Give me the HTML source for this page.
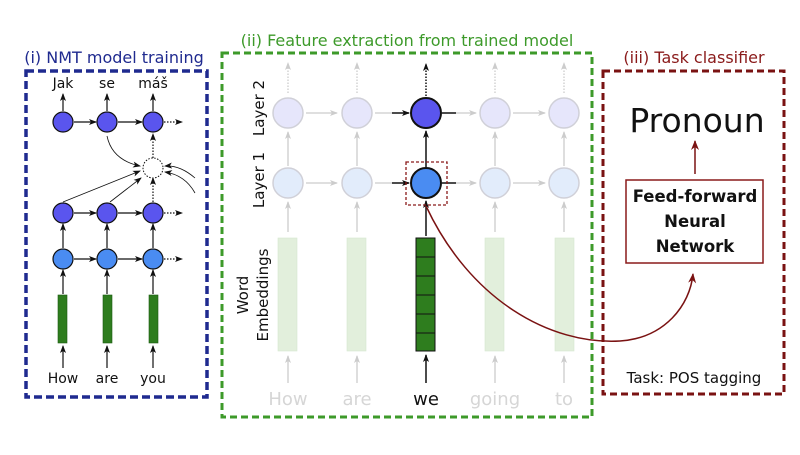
<!DOCTYPE html>
<html><head><meta charset="utf-8"><style>
html,body{margin:0;padding:0;background:#fff;width:800px;height:455px;overflow:hidden}
svg{display:block;font-family:"DejaVu Sans","Liberation Sans",sans-serif}
</style></head><body>
<svg width="800" height="455" viewBox="0 0 800 455" xmlns="http://www.w3.org/2000/svg">
<defs>
<marker id="ab" markerWidth="8" markerHeight="8" refX="7" refY="4" orient="auto" markerUnits="userSpaceOnUse"><path d="M0,1 L8,4 L0,7 L2,4 Z" fill="#111"/></marker>
<marker id="ag" markerWidth="8" markerHeight="8" refX="7" refY="4" orient="auto" markerUnits="userSpaceOnUse"><path d="M0,1 L8,4 L0,7 L2,4 Z" fill="#ccc"/></marker>
<marker id="ar" markerWidth="10" markerHeight="10" refX="9" refY="5" orient="auto" markerUnits="userSpaceOnUse"><path d="M0,1 L10,5 L0,9 L3,5 Z" fill="#7a1212"/></marker>
</defs>

<!-- Panel (i) -->
<text x="114" y="63" font-size="16" fill="#1f2a8f" text-anchor="middle">(i) NMT model training</text>
<rect x="26" y="71" width="181" height="326" fill="none" stroke="#1f2a8f" stroke-width="3.5" stroke-dasharray="8,4"/>
<g font-size="14" fill="#111" text-anchor="middle">
<text x="63" y="88">Jak</text><text x="107" y="88">se</text><text x="153" y="88">máš</text>
<text x="63" y="383">How</text><text x="107" y="383">are</text><text x="153" y="383">you</text>
</g>
<g stroke="#111" stroke-width="1.2" fill="none">
<line x1="63" y1="111" x2="63" y2="94" marker-end="url(#ab)"/>
<line x1="107" y1="111" x2="107" y2="94" marker-end="url(#ab)"/>
<line x1="153" y1="111" x2="153" y2="94" marker-end="url(#ab)"/>
<line x1="74" y1="122" x2="96" y2="122" marker-end="url(#ab)"/>
<line x1="118" y1="122" x2="142" y2="122" marker-end="url(#ab)"/>
<line x1="164" y1="122" x2="182" y2="122" stroke-dasharray="1.5,1.5" marker-end="url(#ab)"/>
<line x1="74" y1="213" x2="96" y2="213" marker-end="url(#ab)"/>
<line x1="118" y1="213" x2="142" y2="213" marker-end="url(#ab)"/>
<line x1="164" y1="213" x2="182" y2="213" stroke-dasharray="1.5,1.5" marker-end="url(#ab)"/>
<line x1="74" y1="259" x2="96" y2="259" marker-end="url(#ab)"/>
<line x1="118" y1="259" x2="142" y2="259" marker-end="url(#ab)"/>
<line x1="164" y1="259" x2="182" y2="259" stroke-dasharray="1.5,1.5" marker-end="url(#ab)"/>
<line x1="63" y1="248" x2="63" y2="224" marker-end="url(#ab)"/>
<line x1="107" y1="248" x2="107" y2="224" marker-end="url(#ab)"/>
<line x1="153" y1="248" x2="153" y2="224" marker-end="url(#ab)"/>
<line x1="63" y1="294" x2="63" y2="270" marker-end="url(#ab)"/>
<line x1="107" y1="294" x2="107" y2="270" marker-end="url(#ab)"/>
<line x1="153" y1="294" x2="153" y2="270" marker-end="url(#ab)"/>
<line x1="63" y1="368" x2="63" y2="346" marker-end="url(#ab)"/>
<line x1="107" y1="368" x2="107" y2="346" marker-end="url(#ab)"/>
<line x1="153" y1="368" x2="153" y2="346" marker-end="url(#ab)"/>
<line x1="153" y1="202" x2="153" y2="178" stroke-dasharray="1.5,1.5" marker-end="url(#ab)"/>
<line x1="153" y1="158" x2="153" y2="134" stroke-dasharray="1.5,1.5" marker-end="url(#ab)"/>
<line x1="63" y1="202" x2="140" y2="171" stroke-width="0.8" marker-end="url(#ab)"/>
<line x1="110" y1="202" x2="141" y2="178" stroke-width="0.8" marker-end="url(#ab)"/>
<path d="M107 136 Q112 160 140 166" stroke-width="0.8" marker-end="url(#ab)"/>
<path d="M195 178 Q180 165 165 166" stroke-width="0.8" marker-end="url(#ab)"/>
<path d="M195 193 Q185 175 165 172" stroke-width="0.8" marker-end="url(#ab)"/>
</g>
<circle cx="153" cy="168" r="10" fill="#fff" stroke="#111" stroke-width="1" stroke-dasharray="1.5,1.5"/>
<g fill="#5a55ee" stroke="#111" stroke-width="1.2">
<circle cx="63" cy="122" r="10"/><circle cx="107" cy="122" r="10"/><circle cx="153" cy="122" r="10"/>
<circle cx="63" cy="213" r="10"/><circle cx="107" cy="213" r="10"/><circle cx="153" cy="213" r="10"/>
</g>
<g fill="#4a8cf2" stroke="#111" stroke-width="1.2">
<circle cx="63" cy="259" r="10"/><circle cx="107" cy="259" r="10"/><circle cx="153" cy="259" r="10"/>
</g>
<g fill="#2e7d1e" stroke="#1d5a12" stroke-width="0.6">
<rect x="58" y="295" width="9" height="48"/><rect x="103" y="295" width="9" height="48"/><rect x="149" y="295" width="9" height="48"/>
</g>

<!-- Panel (ii) -->
<text x="407" y="46" font-size="16" fill="#3d9a2a" text-anchor="middle">(ii) Feature extraction from trained model</text>
<rect x="222" y="53" width="370" height="364" fill="none" stroke="#3d9a2a" stroke-width="3" stroke-dasharray="7,4"/>
<g font-size="15" fill="#111" text-anchor="middle">
<text transform="translate(264,108) rotate(-90)">Layer 2</text>
<text transform="translate(264,180) rotate(-90)">Layer 1</text>
<text transform="translate(248,295) rotate(-90)">Word</text>
<text transform="translate(268,295) rotate(-90)">Embeddings</text>
</g>
<g font-size="18" text-anchor="middle" fill="#d6d6d6">
<text x="288" y="405">How</text><text x="357" y="405">are</text><text x="495" y="405">going</text><text x="564" y="405">to</text>
</g>
<text x="426" y="405" font-size="18" text-anchor="middle" fill="#111">we</text>
<g stroke="#ccc" stroke-width="1.3" fill="none">
<line x1="288" y1="383" x2="288" y2="356" marker-end="url(#ag)"/><line x1="357" y1="383" x2="357" y2="356" marker-end="url(#ag)"/>
<line x1="495" y1="383" x2="495" y2="356" marker-end="url(#ag)"/><line x1="564" y1="383" x2="564" y2="356" marker-end="url(#ag)"/>
<line x1="288" y1="232" x2="288" y2="202" marker-end="url(#ag)"/><line x1="357" y1="232" x2="357" y2="202" marker-end="url(#ag)"/>
<line x1="495" y1="232" x2="495" y2="202" marker-end="url(#ag)"/><line x1="564" y1="232" x2="564" y2="202" marker-end="url(#ag)"/>
<line x1="288" y1="166" x2="288" y2="132" marker-end="url(#ag)"/><line x1="357" y1="166" x2="357" y2="132" marker-end="url(#ag)"/>
<line x1="495" y1="166" x2="495" y2="132" marker-end="url(#ag)"/><line x1="564" y1="166" x2="564" y2="132" marker-end="url(#ag)"/>
<line x1="288" y1="93" x2="288" y2="63" stroke-dasharray="1.5,1.5" marker-end="url(#ag)"/><line x1="357" y1="93" x2="357" y2="63" stroke-dasharray="1.5,1.5" marker-end="url(#ag)"/>
<line x1="495" y1="93" x2="495" y2="63" stroke-dasharray="1.5,1.5" marker-end="url(#ag)"/><line x1="564" y1="93" x2="564" y2="63" stroke-dasharray="1.5,1.5" marker-end="url(#ag)"/>
<line x1="306" y1="113" x2="337" y2="113" marker-end="url(#ag)"/><line x1="306" y1="183" x2="337" y2="183" marker-end="url(#ag)"/>
<line x1="375" y1="113" x2="392" y2="113"/><line x1="375" y1="183" x2="392" y2="183"/>
<line x1="456" y1="113" x2="476" y2="113" marker-end="url(#ag)"/><line x1="456" y1="183" x2="476" y2="183" marker-end="url(#ag)"/>
<line x1="513" y1="113" x2="545" y2="113" marker-end="url(#ag)"/><line x1="513" y1="183" x2="545" y2="183" marker-end="url(#ag)"/>
</g>
<g stroke="#111" stroke-width="1.5" fill="none">
<line x1="392" y1="113" x2="409" y2="113" marker-end="url(#ab)"/>
<line x1="392" y1="183" x2="409" y2="183" marker-end="url(#ab)"/>
<line x1="442" y1="113" x2="456" y2="113"/>
<line x1="442" y1="183" x2="456" y2="183"/>
<line x1="426" y1="383" x2="426" y2="355" marker-end="url(#ab)"/>
<line x1="426" y1="236" x2="426" y2="201" marker-end="url(#ab)"/>
<line x1="426" y1="167" x2="426" y2="131" marker-end="url(#ab)"/>
<line x1="426" y1="96" x2="426" y2="64" stroke-dasharray="1.5,1.5" marker-end="url(#ab)"/>
</g>
<g fill="#e6e6fb" stroke="#d0d0d8" stroke-width="1.5">
<circle cx="288" cy="113" r="15"/><circle cx="357" cy="113" r="15"/><circle cx="495" cy="113" r="15"/><circle cx="564" cy="113" r="15"/>
</g>
<g fill="#e2ecfb" stroke="#d0d0d8" stroke-width="1.5">
<circle cx="288" cy="183" r="15"/><circle cx="357" cy="183" r="15"/><circle cx="495" cy="183" r="15"/><circle cx="564" cy="183" r="15"/>
</g>
<circle cx="426" cy="113" r="15" fill="#5a55ee" stroke="#111" stroke-width="2"/>
<circle cx="426" cy="183" r="15" fill="#4a8cf2" stroke="#111" stroke-width="2"/>
<rect x="406" y="162" width="41" height="43" fill="none" stroke="#8a1a1a" stroke-width="1.3" stroke-dasharray="3,2"/>
<g fill="#e2efdc" stroke="#d6e6d0" stroke-width="0.6">
<rect x="278" y="238" width="19" height="113"/><rect x="347" y="238" width="19" height="113"/>
<rect x="485" y="238" width="19" height="113"/><rect x="555" y="238" width="19" height="113"/>
</g>
<rect x="416" y="238" width="19" height="113" fill="#2e7d1e" stroke="#111" stroke-width="1"/>
<g stroke="#111" stroke-width="1">
<line x1="416" y1="257" x2="435" y2="257"/><line x1="416" y1="276" x2="435" y2="276"/><line x1="416" y1="295" x2="435" y2="295"/>
<line x1="416" y1="314" x2="435" y2="314"/><line x1="416" y1="333" x2="435" y2="333"/>
</g>

<!-- Panel (iii) -->
<text x="694" y="63" font-size="16" fill="#8a1a1a" text-anchor="middle">(iii) Task classifier</text>
<rect x="603" y="71" width="181" height="323" fill="none" stroke="#7a1212" stroke-width="3" stroke-dasharray="7,4"/>
<text x="697" y="132" font-size="33" fill="#111" text-anchor="middle">Pronoun</text>
<line x1="695" y1="174" x2="695" y2="141" stroke="#7a1212" stroke-width="1.5" marker-end="url(#ar)"/>
<rect x="626" y="180" width="137" height="83" fill="#fff" stroke="#8a1a1a" stroke-width="1.5"/>
<g font-size="16.5" font-weight="bold" fill="#111" text-anchor="middle">
<text x="695" y="202">Feed-forward</text><text x="695" y="227">Neural</text><text x="695" y="252">Network</text>
</g>
<text x="694" y="383" font-size="15" fill="#111" text-anchor="middle">Task: POS tagging</text>

<path d="M426 206 C470 300 550 345 620 341 C665 338 690 305 693 274" fill="none" stroke="#7a1212" stroke-width="1.5" marker-end="url(#ar)"/>
</svg>
</body></html>
